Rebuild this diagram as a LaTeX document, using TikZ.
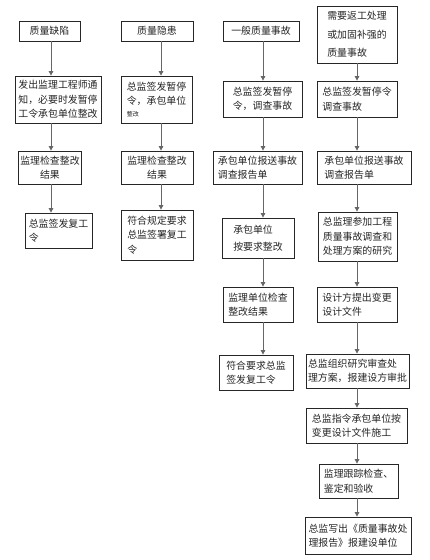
\documentclass[tikz,border=0pt]{standalone}
\usepackage{fontspec}
\newfontfamily\cjk{Noto Sans CJK SC}
\usetikzlibrary{arrows.meta}
\tikzset{
  box/.style={draw=black!85, line width=0.8pt, rectangle, inner sep=2pt, align=left,
    font=\cjk\fontsize{9.9}{14.5}\selectfont, text=black!85},
  cbox/.style={box, align=center},
  arr/.style={draw=black!60, line width=0.9pt, -{Triangle[length=4.5pt,width=4.5pt]}},
}
\begin{document}
\begin{tikzpicture}[x=1pt,y=-1pt]
\useasboundingbox[fill=white] (0,0) rectangle (430,560);
% column x positions
\coordinate (xA) at (51,0);
\coordinate (xB) at (161,0);
\coordinate (xC) at (263,0);
\coordinate (xD) at (357,0);
% column A
\node[cbox, minimum width=61pt, minimum height=20pt] (a1) at (49.5,31) {质量缺陷};
\node[box, minimum width=86pt, minimum height=47pt] (a2) at (58,99.5) {发出监理工程师通\\知，必要时发暂停\\工令承包单位整改};
\node[cbox, minimum width=62pt, minimum height=33pt] (a3) at (50,167.5) {监理检查整改\\结果};
\node[box, minimum width=67pt, minimum height=35pt] (a4) at (58.5,230.5) {总监签发复工\\令};
% column B
\node[cbox, minimum width=72pt, minimum height=20pt] (b1) at (157,31) {质量隐患};
\node[box, minimum width=71pt, minimum height=47pt] (b2) at (156.5,99.5) {总监签发暂停\\令，承包单位\\[-3pt]{\fontsize{6}{7}\selectfont 整改}};
\node[cbox, minimum width=72pt, minimum height=33pt] (b3) at (157,167.5) {监理检查整改\\结果};
\node[box, minimum width=72pt, minimum height=50pt] (b4) at (157,235) {符合规定要求\\总监签署复工\\令};
% column C
\node[cbox, minimum width=76pt, minimum height=20pt] (c1) at (261,31) {一般质量事故};
\node[box, minimum width=79pt, minimum height=36pt] (c2) at (262.5,99) {总监签发暂停\\令，调查事故};
\node[box, minimum width=89pt, minimum height=33pt] (c3) at (257.5,167.5) {承包单位报送事故\\调查报告单};
\node[box, minimum width=72pt, minimum height=40pt] (c4) at (258,238) {承包单位\\[3pt]按要求整改};
\node[box, minimum width=70pt, minimum height=35pt] (c5) at (258,304.5) {监理单位检查\\整改结果};
\node[box, minimum width=74pt, minimum height=35pt] (c6) at (256,372.5) {符合要求总监\\签发复工令};
% column D
\node[box, minimum width=80pt, minimum height=57pt] (d1) at (357,34.5) {需要返工处理\\[4pt]或加固补强的\\[4pt]质量事故};
\node[box, minimum width=80pt, minimum height=36pt] (d2) at (357,99) {总监签发暂停令\\调查事故};
\node[box, minimum width=94pt, minimum height=33pt] (d3) at (364,167.5) {承包单位报送事故\\调查报告单};
\node[box, minimum width=79pt, minimum height=49pt] (d4) at (357.5,236.5) {总监理参加工程\\质量事故调查和\\处理方案的研究};
\node[box, minimum width=80pt, minimum height=35pt] (d5) at (357,304.5) {设计方提出变更\\设计文件};
\node[box, minimum width=103pt, minimum height=34pt] (d6) at (357.5,371) {总监组织研究审查处\\理方案，报建设方审批};
\node[box, minimum width=101pt, minimum height=35pt] (d7) at (356.5,425.5) {总监指令承包单位按\\变更设计文件施工};
\node[box, minimum width=79pt, minimum height=34pt] (d8) at (358.5,481) {监理跟踪检查、\\鉴定和验收};
\node[box, minimum width=106pt, minimum height=37pt] (d9) at (358,535.5) {总监写出《质量事故处\\理报告》报建设单位};
% connectors
\foreach \u/\v/\c in {a1/a2/xA, a2/a3/xA, a3/a4/xA,
  b1/b2/xB, b2/b3/xB, b3/b4/xB,
  c1/c2/xC, c2/c3/xC, c3/c4/xC, c4/c5/xC, c5/c6/xC,
  d1/d2/xD, d2/d3/xD, d3/d4/xD, d4/d5/xD, d5/d6/xD, d6/d7/xD, d7/d8/xD, d8/d9/xD}
  \draw[arr] (\u.south -| \c) -- (\v.north -| \c);
\end{tikzpicture}
\end{document}
